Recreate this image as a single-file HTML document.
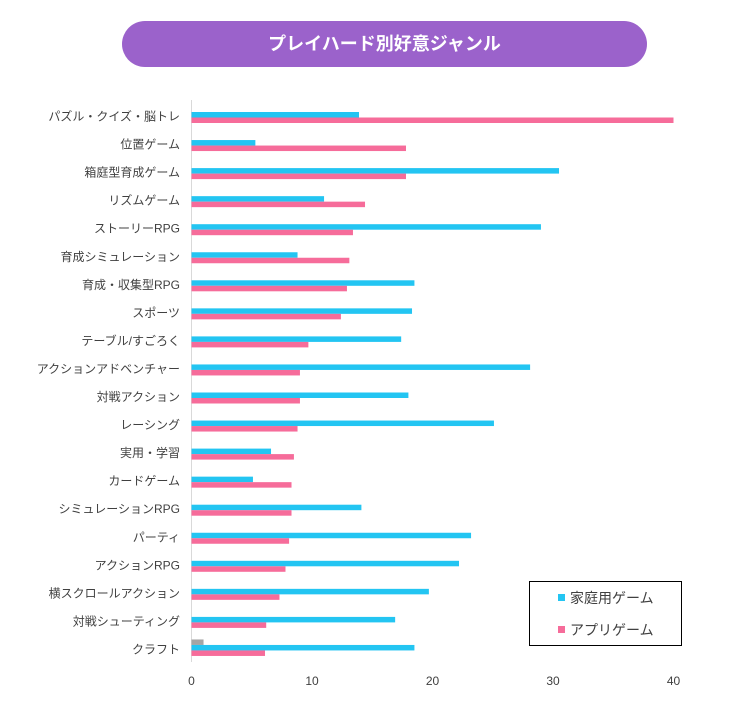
<!DOCTYPE html>
<html><head><meta charset="utf-8">
<style>
body{margin:0;background:#fff;width:734px;height:720px;overflow:hidden;font-family:"Liberation Sans","Noto Sans CJK JP",sans-serif;}
</style></head><body>
<div style="position:absolute;left:122px;top:21px;width:525px;height:46px;border-radius:23px;background:#9b62cb;color:#fff;font-weight:bold;font-size:18px;line-height:46px;text-align:center;">プレイハード別好意ジャンル</div>
<svg id="chart" width="734" height="720" style="position:absolute;left:0;top:0" xmlns="http://www.w3.org/2000/svg"></svg>
<script>
const categories=["パズル・クイズ・脳トレ","位置ゲーム","箱庭型育成ゲーム","リズムゲーム","ストーリーRPG","育成シミュレーション","育成・収集型RPG","スポーツ","テーブル/すごろく","アクションアドベンチャー","対戦アクション","レーシング","実用・学習","カードゲーム","シミュレーションRPG","パーティ","アクションRPG","横スクロールアクション","対戦シューティング","クラフト"];
const homeValues=[13.9,5.3,30.5,11.0,29.0,8.8,18.5,18.3,17.4,28.1,18.0,25.1,6.6,5.1,14.1,23.2,22.2,19.7,16.9,18.5];
const appValues=[40,17.8,17.8,14.4,13.4,13.1,12.9,12.4,9.7,9.0,9.0,8.8,8.5,8.3,8.3,8.1,7.8,7.3,6.2,6.1];
const otherValues=[0,0,0,0,0,0,0,0,0,0,0,0,0,0,0,0,0,0,0,1.0];
const ticks=[0,10,20,30,40];
const svg=document.getElementById('chart');
const NS='http://www.w3.org/2000/svg';
const x0=191.5,x1=673.5,xMax=40;
const xs=v=>x0+(v/xMax)*(x1-x0);
const rowTop=i=>112+i*28.05;
function mk(t,a){const e=document.createElementNS(NS,t);for(const k in a)e.setAttribute(k,a[k]);svg.appendChild(e);return e;}
const ax=mk('line',{x1:x0,x2:x0,y1:100,y2:662,stroke:'#d9d9d9','stroke-width':1});


categories.forEach((c,i)=>{
  const t=rowTop(i);
  const lab=mk('text',{x:180,y:t+8.5,'text-anchor':'end','font-size':12,fill:'#404040'});
  lab.textContent=c;
  
  
  if(otherValues[i]>0){
    const g=mk('rect',{x:x0,y:t-5.5,width:xs(otherValues[i])-x0,height:5.5,fill:'#a5a5a5'});
    
    
  }
  const b=mk('rect',{x:x0,y:t,width:xs(homeValues[i])-x0,height:5.5,fill:'#23c5f2'});
  
  
  const p=mk('rect',{x:x0,y:t+5.5,width:xs(appValues[i])-x0,height:5.5,fill:'#f66c9a'});
  
  
});
ticks.forEach(v=>{
  const t=mk('text',{x:xs(v),y:685,'text-anchor':'middle','font-size':12,fill:'#404040'});
  t.textContent=v;
  
  
});
const lg=mk('rect',{x:529.5,y:581.5,width:152,height:64,fill:'#fff',stroke:'#000','stroke-width':1});


[['家庭用ゲーム','#23c5f2',598],['アプリゲーム','#f66c9a',630]].forEach(([n,c,y])=>{
  const s=mk('rect',{x:558,y:y-4,width:7,height:7,fill:c});
  
  
  const t=mk('text',{x:570,y:y+5,'font-size':14,fill:'#404040'});
  t.textContent=n;
  
  
});
</script>
</body></html>
